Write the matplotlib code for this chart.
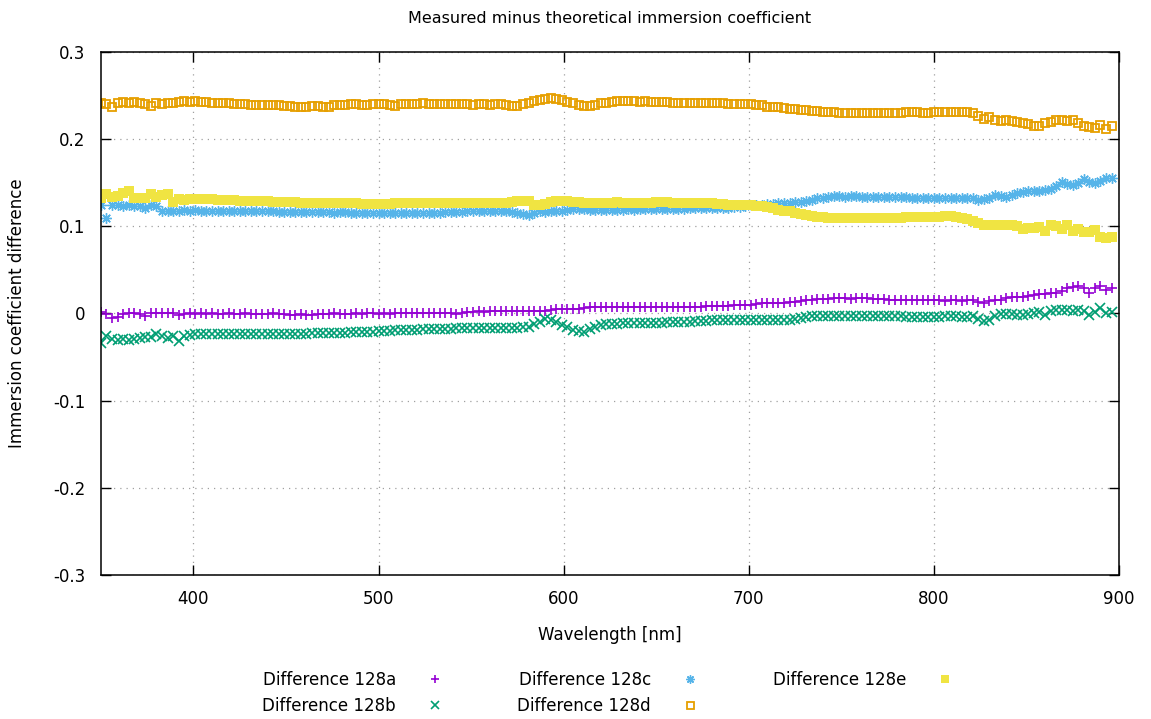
import numpy as np
import matplotlib
matplotlib.use("Agg")
import matplotlib.pyplot as plt

plt.rcParams['font.family'] = ['DejaVu Sans']
plt.rcParams['font.size'] = 12

# wavelength grid [nm]
wavelength = np.arange(350, 897, 3)

diff_128a = [
    0.002, -0.001, -0.005, -0.004, -0.001, 0.000, 0.000, -0.001, -0.003, 0.001,
    0.000, 0.001, 0.001, 0.000, -0.002, -0.001, 0.000, -0.001, 0.000, -0.001,
    0.000, -0.001, -0.001, 0.000, -0.001, -0.001, 0.000, -0.001, -0.001, -0.001,
    -0.001, 0.000, -0.001, -0.001, -0.002, -0.002, -0.001, -0.002, -0.002, -0.001,
    -0.001, -0.001, 0.000, -0.001, -0.001, -0.001, 0.000, -0.001, 0.000, 0.000,
    -0.001, 0.000, -0.001, 0.000, 0.000, 0.000, 0.000, 0.001, 0.000, 0.000,
    0.000, 0.000, 0.001, 0.000, -0.001, 0.001, 0.002, 0.002, 0.003, 0.002,
    0.003, 0.003, 0.003, 0.003, 0.003, 0.003, 0.003, 0.003, 0.003, 0.003,
    0.003, 0.004, 0.005, 0.005, 0.005, 0.005, 0.005, 0.006, 0.007, 0.007,
    0.007, 0.007, 0.007, 0.007, 0.007, 0.007, 0.007, 0.007, 0.007, 0.007,
    0.007, 0.007, 0.007, 0.007, 0.008, 0.007, 0.008, 0.008, 0.008, 0.009,
    0.009, 0.009, 0.009, 0.009, 0.010, 0.010, 0.010, 0.010, 0.011, 0.012,
    0.012, 0.012, 0.012, 0.012, 0.013, 0.013, 0.014, 0.015, 0.016, 0.017,
    0.017, 0.017, 0.018, 0.018, 0.018, 0.017, 0.018, 0.018, 0.018, 0.017,
    0.017, 0.017, 0.016, 0.016, 0.016, 0.016, 0.015, 0.015, 0.016, 0.015,
    0.015, 0.015, 0.014, 0.015, 0.015, 0.014, 0.015, 0.015, 0.013, 0.012,
    0.014, 0.016, 0.016, 0.018, 0.019, 0.019, 0.019, 0.020, 0.021, 0.022,
    0.022, 0.023, 0.023, 0.026, 0.029, 0.030, 0.031, 0.029, 0.024, 0.029,
    0.031, 0.027, 0.029]

diff_128b = [
    -0.034, -0.026, -0.029, -0.030, -0.029, -0.030, -0.029, -0.028, -0.027, -0.027,
    -0.024, -0.026, -0.028, -0.026, -0.032, -0.026, -0.025, -0.024, -0.024, -0.024,
    -0.023, -0.023, -0.023, -0.023, -0.023, -0.023, -0.024, -0.024, -0.024, -0.023,
    -0.023, -0.023, -0.023, -0.023, -0.023, -0.023, -0.023, -0.023, -0.022, -0.022,
    -0.022, -0.022, -0.022, -0.022, -0.022, -0.021, -0.021, -0.021, -0.021, -0.021,
    -0.020, -0.020, -0.020, -0.019, -0.019, -0.019, -0.019, -0.019, -0.018, -0.018,
    -0.018, -0.018, -0.018, -0.018, -0.017, -0.017, -0.017, -0.017, -0.017, -0.017,
    -0.017, -0.017, -0.017, -0.017, -0.017, -0.017, -0.016, -0.015, -0.012, -0.010,
    -0.006, -0.007, -0.010, -0.013, -0.016, -0.019, -0.020, -0.021, -0.018, -0.015,
    -0.013, -0.012, -0.012, -0.012, -0.011, -0.011, -0.011, -0.011, -0.011, -0.011,
    -0.011, -0.011, -0.010, -0.010, -0.010, -0.010, -0.010, -0.009, -0.009, -0.009,
    -0.008, -0.008, -0.008, -0.008, -0.008, -0.007, -0.007, -0.007, -0.007, -0.007,
    -0.007, -0.007, -0.007, -0.007, -0.007, -0.006, -0.005, -0.004, -0.003, -0.003,
    -0.003, -0.003, -0.003, -0.003, -0.003, -0.003, -0.003, -0.003, -0.003, -0.003,
    -0.003, -0.003, -0.003, -0.003, -0.003, -0.004, -0.004, -0.004, -0.004, -0.004,
    -0.004, -0.004, -0.003, -0.003, -0.003, -0.004, -0.004, -0.003, -0.006, -0.009,
    -0.007, -0.003, -0.001, -0.001, -0.001, -0.002, -0.002, -0.001, 0.001, 0.002,
    -0.002, 0.003, 0.004, 0.004, 0.004, 0.003, 0.004, 0.003, -0.002, 0.002,
    0.006, 0.001, 0.002]

diff_128c = [
    0.124, 0.109, 0.124, 0.124, 0.123, 0.124, 0.123, 0.123, 0.121, 0.125,
    0.123, 0.118, 0.117, 0.118, 0.118, 0.119, 0.118, 0.119, 0.118, 0.118,
    0.118, 0.118, 0.118, 0.118, 0.117, 0.118, 0.118, 0.117, 0.118, 0.117,
    0.117, 0.117, 0.116, 0.116, 0.116, 0.116, 0.116, 0.116, 0.116, 0.116,
    0.116, 0.116, 0.115, 0.116, 0.116, 0.115, 0.115, 0.115, 0.115, 0.115,
    0.115, 0.115, 0.115, 0.115, 0.115, 0.115, 0.115, 0.115, 0.115, 0.115,
    0.115, 0.115, 0.116, 0.116, 0.116, 0.116, 0.117, 0.117, 0.117, 0.117,
    0.117, 0.117, 0.117, 0.117, 0.116, 0.115, 0.114, 0.113, 0.115, 0.117,
    0.116, 0.117, 0.118, 0.118, 0.119, 0.120, 0.120, 0.120, 0.119, 0.119,
    0.119, 0.119, 0.119, 0.119, 0.119, 0.120, 0.119, 0.120, 0.120, 0.120,
    0.120, 0.120, 0.120, 0.120, 0.120, 0.120, 0.121, 0.121, 0.121, 0.121,
    0.121, 0.121, 0.121, 0.121, 0.122, 0.122, 0.123, 0.124, 0.125, 0.125,
    0.126, 0.126, 0.127, 0.127, 0.127, 0.128, 0.128, 0.129, 0.130, 0.132,
    0.133, 0.134, 0.135, 0.135, 0.134, 0.135, 0.135, 0.134, 0.134, 0.134,
    0.134, 0.134, 0.134, 0.134, 0.134, 0.134, 0.133, 0.133, 0.133, 0.133,
    0.133, 0.133, 0.133, 0.133, 0.133, 0.133, 0.133, 0.133, 0.130, 0.131,
    0.133, 0.136, 0.135, 0.134, 0.136, 0.138, 0.139, 0.140, 0.140, 0.140,
    0.142, 0.143, 0.146, 0.151, 0.148, 0.147, 0.150, 0.154, 0.151, 0.150,
    0.152, 0.155, 0.155]

diff_128d = [
    0.242, 0.240, 0.237, 0.241, 0.243, 0.241, 0.243, 0.241, 0.240, 0.238,
    0.242, 0.240, 0.242, 0.241, 0.243, 0.244, 0.243, 0.244, 0.243, 0.243,
    0.242, 0.241, 0.241, 0.241, 0.240, 0.240, 0.240, 0.239, 0.239, 0.239,
    0.239, 0.239, 0.239, 0.238, 0.238, 0.237, 0.237, 0.237, 0.238, 0.238,
    0.237, 0.237, 0.239, 0.239, 0.239, 0.240, 0.240, 0.239, 0.239, 0.240,
    0.240, 0.240, 0.239, 0.238, 0.240, 0.240, 0.240, 0.240, 0.241, 0.240,
    0.240, 0.240, 0.240, 0.240, 0.240, 0.240, 0.240, 0.239, 0.240, 0.240,
    0.239, 0.240, 0.240, 0.239, 0.238, 0.238, 0.240, 0.242, 0.244, 0.245,
    0.246, 0.247, 0.246, 0.245, 0.243, 0.241, 0.239, 0.238, 0.238, 0.239,
    0.241, 0.242, 0.243, 0.244, 0.244, 0.244, 0.244, 0.243, 0.244, 0.243,
    0.243, 0.243, 0.243, 0.242, 0.242, 0.242, 0.242, 0.242, 0.242, 0.242,
    0.241, 0.241, 0.241, 0.240, 0.240, 0.240, 0.240, 0.240, 0.239, 0.239,
    0.237, 0.237, 0.237, 0.236, 0.235, 0.235, 0.234, 0.233, 0.232, 0.232,
    0.231, 0.231, 0.231, 0.230, 0.230, 0.230, 0.230, 0.230, 0.230, 0.230,
    0.230, 0.230, 0.230, 0.230, 0.230, 0.231, 0.231, 0.231, 0.230, 0.230,
    0.231, 0.231, 0.231, 0.231, 0.231, 0.231, 0.231, 0.230, 0.226, 0.223,
    0.225, 0.222, 0.221, 0.222, 0.221, 0.220, 0.219, 0.217, 0.215, 0.215,
    0.218, 0.220, 0.222, 0.222, 0.221, 0.222, 0.218, 0.215, 0.214, 0.213,
    0.216, 0.212, 0.215]

diff_128e = [
    0.133, 0.137, 0.134, 0.135, 0.138, 0.140, 0.133, 0.132, 0.133, 0.137,
    0.134, 0.136, 0.137, 0.128, 0.131, 0.130, 0.131, 0.131, 0.131, 0.131,
    0.131, 0.130, 0.130, 0.130, 0.130, 0.129, 0.129, 0.129, 0.129, 0.129,
    0.129, 0.128, 0.128, 0.128, 0.128, 0.128, 0.127, 0.127, 0.127, 0.127,
    0.127, 0.127, 0.127, 0.127, 0.127, 0.127, 0.127, 0.126, 0.126, 0.126,
    0.126, 0.126, 0.126, 0.127, 0.127, 0.127, 0.127, 0.127, 0.127, 0.127,
    0.127, 0.127, 0.127, 0.127, 0.127, 0.127, 0.127, 0.127, 0.127, 0.127,
    0.127, 0.127, 0.127, 0.127, 0.128, 0.129, 0.129, 0.129, 0.125, 0.125,
    0.126, 0.128, 0.129, 0.129, 0.129, 0.128, 0.128, 0.127, 0.127, 0.127,
    0.127, 0.127, 0.127, 0.128, 0.127, 0.127, 0.127, 0.127, 0.127, 0.127,
    0.128, 0.128, 0.128, 0.127, 0.127, 0.127, 0.127, 0.127, 0.127, 0.127,
    0.127, 0.126, 0.126, 0.125, 0.125, 0.125, 0.125, 0.124, 0.123, 0.123,
    0.122, 0.121, 0.119, 0.118, 0.117, 0.115, 0.114, 0.113, 0.112, 0.111,
    0.111, 0.110, 0.110, 0.110, 0.110, 0.110, 0.110, 0.110, 0.110, 0.110,
    0.110, 0.110, 0.110, 0.110, 0.110, 0.111, 0.111, 0.111, 0.111, 0.111,
    0.111, 0.111, 0.112, 0.112, 0.111, 0.109, 0.108, 0.106, 0.104, 0.102,
    0.102, 0.102, 0.101, 0.102, 0.102, 0.100, 0.097, 0.098, 0.098, 0.099,
    0.095, 0.101, 0.100, 0.097, 0.101, 0.095, 0.097, 0.093, 0.094, 0.096,
    0.088, 0.087, 0.088]

fig = plt.figure(figsize=(11.51, 7.19), dpi=100)
ax = fig.add_axes([0.0877, 0.2003, 0.8845, 0.7274])

ax.plot(wavelength, diff_128a, ls='none', marker='+', ms=7.5, mew=1.2,
        color='#9400d3', label='Difference 128a')
ax.plot(wavelength, diff_128b, ls='none', marker='x', ms=6.5, mew=1.2,
        color='#009e73', label='Difference 128b')
ax.plot(wavelength, diff_128c, ls='none', marker=(8, 2, 0), ms=7.5, mew=1.0,
        color='#56b4e9', label='Difference 128c')
ax.plot(wavelength, diff_128d, ls='none', marker='s', ms=6.3, mew=1.3,
        mfc='none', color='#e69f00', label='Difference 128d')
ax.plot(wavelength, diff_128e, ls='none', marker='s', ms=7.2, mew=0,
        color='#f0e442', label='Difference 128e')

ax.set_xlim(350, 900)
ax.set_ylim(-0.3, 0.3)
ax.set_xticks([400, 500, 600, 700, 800, 900])
ax.set_yticks([-0.3, -0.2, -0.1, 0, 0.1, 0.2, 0.3])
ax.set_yticklabels(['-0.3', '-0.2', '-0.1', '0', '0.1', '0.2', '0.3'])
ax.tick_params(direction='in', length=7, width=1, top=True, right=True, pad=11)
ax.grid(True, ls=(0, (1, 4)), color='#a0a0a0', lw=0.9)
for s in ax.spines.values():
    s.set_linewidth(1.1)

ax.set_title('Measured minus theoretical immersion coefficient', pad=21, fontsize=11.5)
ax.set_xlabel('Wavelength [nm]', labelpad=13)
ax.set_ylabel('Immersion coefficient difference', labelpad=20)

ax.legend(loc='upper center', bbox_to_anchor=(0.5, -0.155), ncol=3,
          frameon=False, markerfirst=False, handlelength=1.5, markerscale=0.8,
          columnspacing=4.2, handletextpad=1.6, labelspacing=0.45)

fig.savefig('out.png', dpi=100)
